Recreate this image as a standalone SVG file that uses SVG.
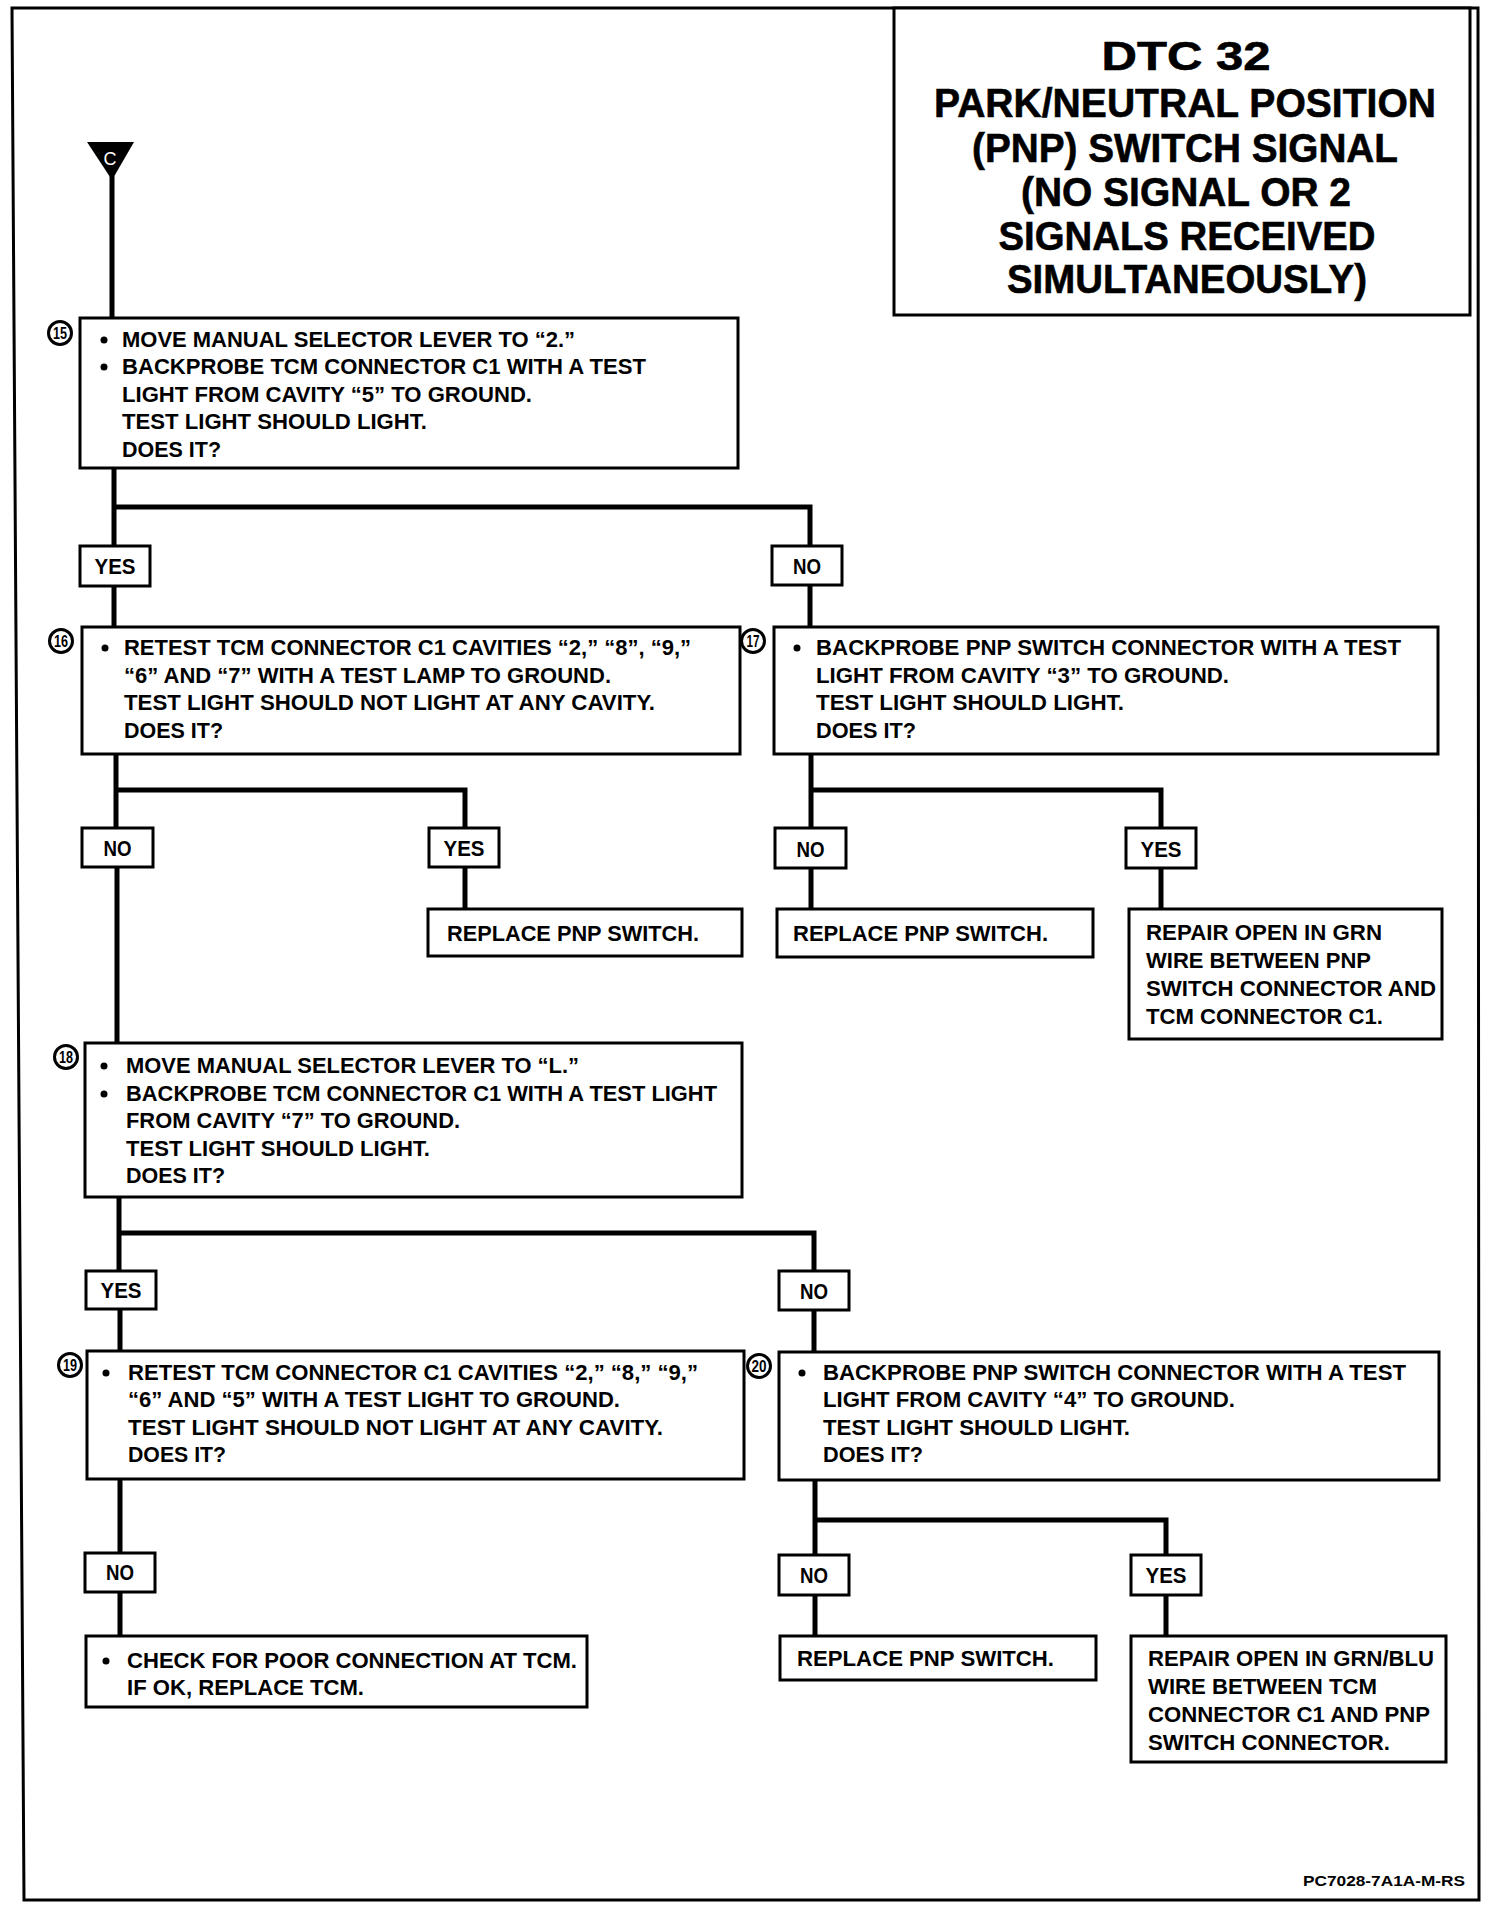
<svg xmlns="http://www.w3.org/2000/svg" width="1488" height="1906" viewBox="0 0 1488 1906">
<style>
.bx{fill:#fff;stroke:#000;stroke-width:3}
.lb{fill:#fff;stroke:#000;stroke-width:3}
.cn{fill:none;stroke:#000;stroke-width:5;stroke-linecap:square}
.t{font-family:"Liberation Sans",Arial,sans-serif;font-weight:bold;font-size:22px;fill:#000}
.tl{font-family:"Liberation Sans",Arial,sans-serif;font-weight:bold;font-size:22px;fill:#000;text-anchor:middle}
.ti{font-family:"Liberation Sans",Arial,sans-serif;font-weight:bold;font-size:41px;fill:#000;text-anchor:middle;stroke:#000;stroke-width:0.6}
.nm{font-family:"Liberation Sans",Arial,sans-serif;font-weight:bold;font-size:17px;fill:#000;text-anchor:middle}
.nc{fill:#fff;stroke:#000;stroke-width:3}
.bu{fill:#000}
</style>
<rect x="0" y="0" width="1488" height="1906" fill="#fff"/>
<path d="M12,8 L1478,8 L1479,1900 L24,1900 Z" fill="none" stroke="#000" stroke-width="3"/>

<g id="title">
<rect x="894" y="8" width="576" height="307" fill="#fff" stroke="#000" stroke-width="3"/>
<text class="ti" x="1186" y="70" font-size="60" textLength="169" lengthAdjust="spacingAndGlyphs">DTC 32</text>
<text class="ti" x="1185" y="117" textLength="502" lengthAdjust="spacingAndGlyphs">PARK/NEUTRAL POSITION</text>
<text class="ti" x="1185" y="162" textLength="426" lengthAdjust="spacingAndGlyphs">(PNP) SWITCH SIGNAL</text>
<text class="ti" x="1186" y="206" textLength="330" lengthAdjust="spacingAndGlyphs">(NO SIGNAL OR 2</text>
<text class="ti" x="1187" y="250" textLength="377" lengthAdjust="spacingAndGlyphs">SIGNALS RECEIVED</text>
<text class="ti" x="1187" y="293" textLength="360" lengthAdjust="spacingAndGlyphs">SIMULTANEOUSLY)</text>
</g>

<g id="connectors">
<path class="cn" d="M112,178 V318"/>
<path class="cn" d="M114,468 V544 M114,507 H810 V544"/>
<path class="cn" d="M114,586 V627"/>
<path class="cn" d="M810,585 V627"/>
<path class="cn" d="M116,754 V828 M116,790 H465 V828"/>
<path class="cn" d="M465,867 V909"/>
<path class="cn" d="M117,867 V1043"/>
<path class="cn" d="M811,754 V828 M811,790 H1161 V828"/>
<path class="cn" d="M811,868 V909 M1161,868 V909"/>
<path class="cn" d="M119,1197 V1270 M119,1233 H814 V1270"/>
<path class="cn" d="M120,1309 V1351 M814,1310 V1352"/>
<path class="cn" d="M120,1479 V1552 M120,1592 V1637"/>
<path class="cn" d="M815,1480 V1554 M815,1520 H1166 V1554"/>
<path class="cn" d="M815,1595 V1637 M1166,1595 V1637"/>
</g>

<g id="startC">
<polygon points="87,142 134,142 112,180" fill="#000"/>
<text x="110" y="165" font-family="Liberation Sans,Arial,sans-serif" font-size="18" fill="#fff" text-anchor="middle">C</text>
</g>

<g id="step15">
<rect class="bx" x="80" y="318" width="658" height="150"/>
<circle class="nc" cx="60" cy="333" r="11.5"/>
<text class="nm" x="60" y="339" textLength="14" lengthAdjust="spacingAndGlyphs">15</text>
<circle class="bu" cx="104" cy="340" r="3.5"/>
<circle class="bu" cx="104" cy="367" r="3.5"/>
<text class="t" x="122" y="347" textLength="453" lengthAdjust="spacingAndGlyphs">MOVE MANUAL SELECTOR LEVER TO “2.”</text>
<text class="t" x="122" y="374" textLength="524" lengthAdjust="spacingAndGlyphs">BACKPROBE TCM CONNECTOR C1 WITH A TEST</text>
<text class="t" x="122" y="402" textLength="410" lengthAdjust="spacingAndGlyphs">LIGHT FROM CAVITY “5” TO GROUND.</text>
<text class="t" x="122" y="429" textLength="305" lengthAdjust="spacingAndGlyphs">TEST LIGHT SHOULD LIGHT.</text>
<text class="t" x="122" y="457" textLength="99" lengthAdjust="spacingAndGlyphs">DOES IT?</text>
</g>

<g id="yes15">
<rect class="lb" x="80" y="546" width="70" height="40"/>
<text class="tl" x="115" y="574" textLength="41" lengthAdjust="spacingAndGlyphs">YES</text>
</g>
<g id="no15">
<rect class="lb" x="772" y="546" width="70" height="39"/>
<text class="tl" x="807" y="574" textLength="28" lengthAdjust="spacingAndGlyphs">NO</text>
</g>

<g id="step16">
<rect class="bx" x="82" y="627" width="658" height="127"/>
<circle class="nc" cx="61" cy="641" r="11.5"/>
<text class="nm" x="61" y="647" textLength="14" lengthAdjust="spacingAndGlyphs">16</text>
<circle class="bu" cx="105" cy="648" r="3.5"/>
<text class="t" x="124" y="655" textLength="567" lengthAdjust="spacingAndGlyphs">RETEST TCM CONNECTOR C1 CAVITIES “2,” “8”, “9,”</text>
<text class="t" x="124" y="683" textLength="487" lengthAdjust="spacingAndGlyphs">“6” AND “7” WITH A TEST LAMP TO GROUND.</text>
<text class="t" x="124" y="710" textLength="531" lengthAdjust="spacingAndGlyphs">TEST LIGHT SHOULD NOT LIGHT AT ANY CAVITY.</text>
<text class="t" x="124" y="738" textLength="99" lengthAdjust="spacingAndGlyphs">DOES IT?</text>
</g>

<g id="step17">
<rect class="bx" x="774" y="627" width="664" height="127"/>
<circle class="nc" cx="753" cy="641" r="11.5"/>
<text class="nm" x="753" y="647" textLength="13" lengthAdjust="spacingAndGlyphs">17</text>
<circle class="bu" cx="797" cy="648" r="3.5"/>
<text class="t" x="816" y="655" textLength="585" lengthAdjust="spacingAndGlyphs">BACKPROBE PNP SWITCH CONNECTOR WITH A TEST</text>
<text class="t" x="816" y="683" textLength="413" lengthAdjust="spacingAndGlyphs">LIGHT FROM CAVITY “3” TO GROUND.</text>
<text class="t" x="816" y="710" textLength="308" lengthAdjust="spacingAndGlyphs">TEST LIGHT SHOULD LIGHT.</text>
<text class="t" x="816" y="738" textLength="100" lengthAdjust="spacingAndGlyphs">DOES IT?</text>
</g>

<g id="no16">
<rect class="lb" x="82" y="828" width="71" height="39"/>
<text class="tl" x="117.5" y="856" textLength="28" lengthAdjust="spacingAndGlyphs">NO</text>
</g>
<g id="yes16">
<rect class="lb" x="429" y="828" width="70" height="39"/>
<text class="tl" x="464" y="856" textLength="41" lengthAdjust="spacingAndGlyphs">YES</text>
</g>
<g id="no17">
<rect class="lb" x="775" y="828" width="71" height="40"/>
<text class="tl" x="810.5" y="857" textLength="28" lengthAdjust="spacingAndGlyphs">NO</text>
</g>
<g id="yes17">
<rect class="lb" x="1126" y="828" width="70" height="40"/>
<text class="tl" x="1161" y="857" textLength="41" lengthAdjust="spacingAndGlyphs">YES</text>
</g>

<g id="replace16">
<rect class="bx" x="428" y="909" width="314" height="47"/>
<text class="t" x="447" y="941" textLength="252" lengthAdjust="spacingAndGlyphs">REPLACE PNP SWITCH.</text>
</g>
<g id="replace17">
<rect class="bx" x="777" y="909" width="316" height="48"/>
<text class="t" x="793" y="941" textLength="255" lengthAdjust="spacingAndGlyphs">REPLACE PNP SWITCH.</text>
</g>
<g id="repair17">
<rect class="bx" x="1129" y="909" width="313" height="130"/>
<text class="t" x="1146" y="940" textLength="236" lengthAdjust="spacingAndGlyphs">REPAIR OPEN IN GRN</text>
<text class="t" x="1146" y="968" textLength="225" lengthAdjust="spacingAndGlyphs">WIRE BETWEEN PNP</text>
<text class="t" x="1146" y="996" textLength="290" lengthAdjust="spacingAndGlyphs">SWITCH CONNECTOR AND</text>
<text class="t" x="1146" y="1024" textLength="237" lengthAdjust="spacingAndGlyphs">TCM CONNECTOR C1.</text>
</g>

<g id="step18">
<rect class="bx" x="85" y="1043" width="657" height="154"/>
<circle class="nc" cx="66" cy="1057" r="11.5"/>
<text class="nm" x="66" y="1063" textLength="14" lengthAdjust="spacingAndGlyphs">18</text>
<circle class="bu" cx="104" cy="1066" r="3.5"/>
<circle class="bu" cx="104" cy="1094" r="3.5"/>
<text class="t" x="126" y="1073" textLength="453" lengthAdjust="spacingAndGlyphs">MOVE MANUAL SELECTOR LEVER TO “L.”</text>
<text class="t" x="126" y="1101" textLength="591" lengthAdjust="spacingAndGlyphs">BACKPROBE TCM CONNECTOR C1 WITH A TEST LIGHT</text>
<text class="t" x="126" y="1128" textLength="334" lengthAdjust="spacingAndGlyphs">FROM CAVITY “7” TO GROUND.</text>
<text class="t" x="126" y="1156" textLength="304" lengthAdjust="spacingAndGlyphs">TEST LIGHT SHOULD LIGHT.</text>
<text class="t" x="126" y="1183" textLength="99" lengthAdjust="spacingAndGlyphs">DOES IT?</text>
</g>

<g id="yes18">
<rect class="lb" x="86" y="1271" width="70" height="38"/>
<text class="tl" x="121" y="1298" textLength="41" lengthAdjust="spacingAndGlyphs">YES</text>
</g>
<g id="no18">
<rect class="lb" x="779" y="1271" width="70" height="39"/>
<text class="tl" x="814" y="1299" textLength="28" lengthAdjust="spacingAndGlyphs">NO</text>
</g>

<g id="step19">
<rect class="bx" x="87" y="1351" width="657" height="128"/>
<circle class="nc" cx="70" cy="1365" r="11.5"/>
<text class="nm" x="70" y="1371" textLength="14" lengthAdjust="spacingAndGlyphs">19</text>
<circle class="bu" cx="106" cy="1373" r="3.5"/>
<text class="t" x="128" y="1380" textLength="570" lengthAdjust="spacingAndGlyphs">RETEST TCM CONNECTOR C1 CAVITIES “2,” “8,” “9,”</text>
<text class="t" x="128" y="1407" textLength="492" lengthAdjust="spacingAndGlyphs">“6” AND “5” WITH A TEST LIGHT TO GROUND.</text>
<text class="t" x="128" y="1435" textLength="535" lengthAdjust="spacingAndGlyphs">TEST LIGHT SHOULD NOT LIGHT AT ANY CAVITY.</text>
<text class="t" x="128" y="1462" textLength="98" lengthAdjust="spacingAndGlyphs">DOES IT?</text>
</g>

<g id="step20">
<rect class="bx" x="779" y="1352" width="660" height="128"/>
<circle class="nc" cx="759" cy="1366" r="11.5"/>
<text class="nm" x="759" y="1372" textLength="15" lengthAdjust="spacingAndGlyphs">20</text>
<circle class="bu" cx="802" cy="1373" r="3.5"/>
<text class="t" x="823" y="1380" textLength="583" lengthAdjust="spacingAndGlyphs">BACKPROBE PNP SWITCH CONNECTOR WITH A TEST</text>
<text class="t" x="823" y="1407" textLength="412" lengthAdjust="spacingAndGlyphs">LIGHT FROM CAVITY “4” TO GROUND.</text>
<text class="t" x="823" y="1435" textLength="307" lengthAdjust="spacingAndGlyphs">TEST LIGHT SHOULD LIGHT.</text>
<text class="t" x="823" y="1462" textLength="100" lengthAdjust="spacingAndGlyphs">DOES IT?</text>
</g>

<g id="no19">
<rect class="lb" x="85" y="1553" width="70" height="39"/>
<text class="tl" x="120" y="1580" textLength="28" lengthAdjust="spacingAndGlyphs">NO</text>
</g>
<g id="check19">
<rect class="bx" x="86" y="1636" width="501" height="71"/>
<circle class="bu" cx="106" cy="1661" r="3.5"/>
<text class="t" x="127" y="1668" textLength="450" lengthAdjust="spacingAndGlyphs">CHECK FOR POOR CONNECTION AT TCM.</text>
<text class="t" x="127" y="1695" textLength="237" lengthAdjust="spacingAndGlyphs">IF OK, REPLACE TCM.</text>
</g>

<g id="no20">
<rect class="lb" x="779" y="1555" width="70" height="40"/>
<text class="tl" x="814" y="1583" textLength="28" lengthAdjust="spacingAndGlyphs">NO</text>
</g>
<g id="yes20">
<rect class="lb" x="1131" y="1555" width="70" height="40"/>
<text class="tl" x="1166" y="1583" textLength="41" lengthAdjust="spacingAndGlyphs">YES</text>
</g>
<g id="replace20">
<rect class="bx" x="780" y="1636" width="316" height="44"/>
<text class="t" x="797" y="1666" textLength="257" lengthAdjust="spacingAndGlyphs">REPLACE PNP SWITCH.</text>
</g>
<g id="repair20">
<rect class="bx" x="1131" y="1636" width="315" height="126"/>
<text class="t" x="1148" y="1666" textLength="286" lengthAdjust="spacingAndGlyphs">REPAIR OPEN IN GRN/BLU</text>
<text class="t" x="1148" y="1694" textLength="229" lengthAdjust="spacingAndGlyphs">WIRE BETWEEN TCM</text>
<text class="t" x="1148" y="1722" textLength="282" lengthAdjust="spacingAndGlyphs">CONNECTOR C1 AND PNP</text>
<text class="t" x="1148" y="1750" textLength="242" lengthAdjust="spacingAndGlyphs">SWITCH CONNECTOR.</text>
</g>

<text x="1465" y="1886" font-family="Liberation Sans,Arial,sans-serif" font-weight="bold" font-size="15" text-anchor="end" textLength="162" lengthAdjust="spacingAndGlyphs">PC7028-7A1A-M-RS</text>
</svg>
